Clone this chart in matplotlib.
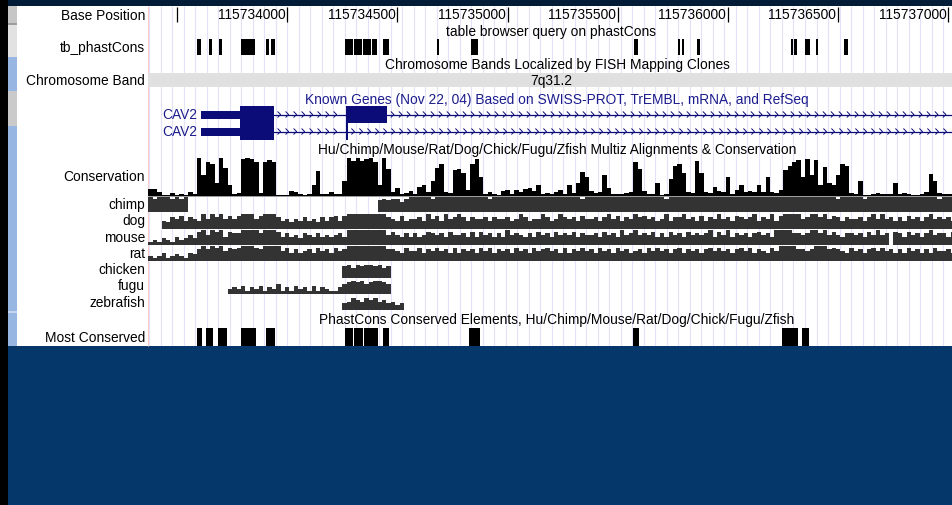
import matplotlib
matplotlib.use("Agg")
import matplotlib.pyplot as plt
from matplotlib.patches import Rectangle
from matplotlib.collections import LineCollection

plt.rcParams['font.family'] = ['Liberation Sans', 'DejaVu Sans']

# ---------------------------------------------------------------- data
VIEW_START = 115733368
VIEW_END = 115737016

ruler_ticks = [115733500, 115734000, 115734500, 115735000,
               115735500, 115736000, 115736500, 115737000]
ruler_labels = ["", "115734000", "115734500", "115735000",
                "115735500", "115736000", "115736500", "115737000"]

track_labels = ["Base Position", "tb_phastCons", "Chromosome Band",
                "Conservation", "chimp", "dog", "mouse", "rat",
                "chicken", "fugu", "zebrafish", "Most Conserved"]

track_titles = ["table browser query on phastCons",
                "Chromosome Bands Localized by FISH Mapping Clones",
                "Known Genes (Nov 22, 04) Based on SWISS-PROT, TrEMBL, mRNA, and RefSeq",
                "Hu/Chimp/Mouse/Rat/Dog/Chick/Fugu/Zfish Multiz Alignments & Conservation",
                "PhastCons Conserved Elements, Hu/Chimp/Mouse/Rat/Dog/Chick/Fugu/Zfish"]

band_name = "7q31.2"

# table browser phastCons query hits
tb_starts = [115733589, 115733645, 115733690, 115733790, 115733902, 115733925,
             115734262, 115734304, 115734345, 115734386, 115734436, 115734681,
             115734834, 115735574, 115735771, 115735789, 115735858, 115736285,
             115736299, 115736349, 115736397, 115736526]
tb_ends = [115733609, 115733660, 115733702, 115733853, 115733917, 115733943,
           115734300, 115734340, 115734380, 115734406, 115734463, 115734690,
           115734864, 115735593, 115735782, 115735800, 115735872, 115736293,
           115736311, 115736371, 115736409, 115736545]

# phastCons most conserved elements
mc_starts = [115733589, 115733630, 115733687, 115733789, 115733902, 115734262,
             115734303, 115734349, 115734436, 115734824, 115735570, 115736246,
             115736337]
mc_ends = [115733612, 115733664, 115733725, 115733858, 115733944, 115734300,
           115734345, 115734410, 115734463, 115734874, 115735597, 115736318,
           115736368]

# Known Genes: two CAV2 transcripts
gene_names = ["CAV2", "CAV2"]
gene_tx_start = [115733608, 115733608]
gene_cds_start = [115733785, 115733785]
gene_exon_starts = [[115733608, 115734265], [115733608, 115734266]]
gene_exon_ends = [[115733940, 115734454], [115733940, 115734275]]

# conservation score per 20 bp bin
cons_bin_start = 115733370
cons_bin_size = 20
conservation = [
    0.18, 0.18, 0.10, 0.02, 0.02, 0.08, 0.03, 0.04, 0.03, 0.10,
    0.06, 1.00, 0.55, 0.90, 0.85, 0.35, 1.00, 0.75, 0.30, 0.05,
    0.08, 0.98, 1.00, 0.98, 0.90, 0.08, 0.90, 0.96, 0.90, 0.03,
    0.02, 0.03, 0.12, 0.10, 0.04, 0.03, 0.04, 0.30, 0.67, 0.05,
    0.06, 0.10, 0.04, 0.05, 0.40, 1.00, 0.92, 1.00, 0.93, 0.97,
    1.00, 0.90, 0.30, 1.00, 0.70, 0.10, 0.20, 0.05, 0.08, 0.12,
    0.04, 0.25, 0.30, 0.10, 0.40, 0.75, 0.85, 0.10, 0.08, 0.68,
    0.72, 0.60, 0.15, 0.85, 0.98, 0.50, 0.05, 0.10, 0.04, 0.03,
    0.12, 0.15, 0.05, 0.15, 0.10, 0.18, 0.20, 0.12, 0.28, 0.05,
    0.08, 0.06, 0.10, 0.15, 0.05, 0.30, 0.08, 0.35, 0.62, 0.50,
    0.12, 0.08, 0.10, 0.55, 0.20, 0.06, 0.05, 0.06, 0.08, 0.10,
    0.90, 0.70, 0.12, 0.05, 0.06, 0.35, 0.03, 0.05, 0.45, 0.78,
    0.85, 0.60, 0.10, 0.08, 0.92, 0.60, 0.10, 0.08, 0.25, 0.12,
    0.10, 0.50, 0.05, 0.15, 0.30, 0.10, 0.12, 0.10, 0.30, 0.10,
    0.50, 0.10, 0.08, 0.15, 0.68, 0.80, 0.90, 0.96, 0.50, 0.98,
    0.55, 0.94, 0.30, 0.76, 0.35, 0.28, 0.55, 0.85, 0.80, 0.08,
    0.05, 0.40, 0.03, 0.03, 0.05, 0.08, 0.04, 0.04, 0.05, 0.35,
    0.05, 0.08, 0.05, 0.03, 0.03, 0.04, 0.10, 0.58, 0.40, 0.08,
    0.06, 0.05, 0.05]

# pairwise alignment level per 20 bp bin (0-9, '.' = no alignment)
chimp_levels = ("989998989." ".........." ".........." ".........."
                ".........." "..78788689" "9999899999" "9999999899"
                "9999999999" "9999999989" "9999999999" "9999999899"
                "9999999999" "9999999999" "9999999999" "9999998999"
                "9989999999" "9999999998" "999")
dog_levels = ("...5476857" "6596979686" "8999689997" "5646575647"
              "5785899999" "9999765856" "6759685967" "9757667576"
              "6756975669" "7569767586" "6757968576" "9786756957"
              "7967585769" "6758767957" "6958999967" "9979687576"
              "6757969675" "7586757967" "675")
mouse_levels = ("2324325346" "4896989587" "7999979998" "5756476575"
                "6567599999" "9999686575" "7568767586" "6758586757"
                "5967657586" "7586768576" "6758675967" "9676857586"
                "7586767958" "6957675786" "7599997767" "9979686577"
                "67586967.8" "7586757967" "758")
rat_levels = ("3235234325" "4797989687" "8999879999" "6857567586"
              "7586799999" "9999776586" "6857686758" "5767586857"
              "6758675867" "8675857686" "7586758675" "6758686757"
              "8576757868" "6757868576" "5869999776" "7999787658"
              "6757868675" "7586757586" "675")
chicken_levels = (".........." ".........." ".........." ".........."
                  "....786878" "87867.....")
fugu_levels = (".........." "........34" "3524352436" "2425342524"
               "3224678786" "78876.....")
zebrafish_levels = (".........." ".........." ".........." ".........."
                    "....457657" "67564534..")

# ---------------------------------------------------------------- figure
W, H = 952, 506
FS = 9.9
NAVY = "#0c0c78"

fig = plt.figure(figsize=(W / 100, H / 100), dpi=100)
bg = fig.add_axes([0, 0, 1, 1])
bg.set_xlim(0, W)
bg.set_ylim(H, 0)
bg.axis("off")

def box(x0, y0, x1, y1, color, z=1):
    bg.add_patch(Rectangle((x0, y0), x1 - x0, y1 - y0, facecolor=color,
                           edgecolor="none", zorder=z))

box(0, 0, W, H, "#06376a", 0)          # page background
box(0, 0, W, 7, "#021c38")             # top band
box(8, 7, W, 347, "white")             # browser image
box(0, 0, 7.5, H, "black")             # left edge
# track-control buttons
box(8, 7, 17, 24, "#c6c6c6")
box(8, 24, 17, 26, "#9c9c9c")
box(8, 26, 17, 58, "#e2e2e2")
box(8, 58, 17, 92, "#98b6e2")
box(8, 92, 17, 127, "#cacaca")
box(8, 127, 17, 312, "#98b6e2")
box(8, 312, 17, 314, "#c4d6f0")
box(8, 314, 17, 347, "#98b6e2")
bg.vlines(147.5, 7, 347, color="#ffcccc", lw=0.8, zorder=2)

label_y = [15.5, 48, 81, 177, 205, 221, 238, 254, 270, 286, 303, 338]
for lab, y in zip(track_labels, label_y):
    bg.text(145, y, lab, ha="right", va="center", fontsize=FS, color="black",
            zorder=3)

# data panel: x in genome coordinates, y in image rows
ax = fig.add_axes([148 / W, (H - 347) / H, (W - 148) / W, 340 / H])
ax.set_xlim(VIEW_START, VIEW_END)
ax.set_ylim(347, 7)
ax.axis("off")
ax.patch.set_alpha(0)
bp_px = (VIEW_END - VIEW_START) / (W - 148)

# track titles, drawn above the guide lines
title_pos = [(551.5, 32, "black"), (557, 65, "black"), (557, 100, "#1c1c8c"),
             (557, 150, "black"), (557, 320, "black")]
for t, (x, y, c) in zip(track_titles, title_pos):
    ax.text(x, y, t, ha="center", va="center", fontsize=FS, color=c,
            transform=bg.transData, zorder=6, clip_on=False)

# guide lines
guide = [115734000 + k * 52.2 for k in range(-12, 60)]
ax.vlines(guide, 7, 347, color="#e2e2fb", lw=0.8, zorder=0)

# ruler
ax.vlines(ruler_ticks, 8, 23, color="black", lw=0.9, zorder=3)
for t, lab in zip(ruler_ticks, ruler_labels):
    ax.annotate(lab, xy=(t, 15.5), xytext=(-2, 0), textcoords="offset pixels",
                ha="right", va="center", fontsize=FS, color="black", zorder=6)

# table-browser hits
ax.broken_barh([(s, e - s) for s, e in zip(tb_starts, tb_ends)], (40, 16),
               facecolors="black", zorder=3)

# chromosome band
ax.broken_barh([(VIEW_START, VIEW_END - VIEW_START)], (74, 14),
               facecolors="#e0e0e0", zorder=1)
ax.text(551, 81, band_name, ha="center", va="center", fontsize=FS,
        color="black", transform=bg.transData, zorder=6)

# genes
gene_y = [115.5, 132.5]
chev = []
for name, yc, txs, cds, es, ee in zip(gene_names, gene_y, gene_tx_start,
                                       gene_cds_start, gene_exon_starts,
                                       gene_exon_ends):
    ax.hlines(yc, txs, VIEW_END, color=NAVY, lw=0.9, zorder=3)
    bounds = list(zip(ee, es[1:] + [VIEW_END]))
    for a, b in bounds:
        p = a + 5 * bp_px
        while p < b - 3 * bp_px:
            chev.append([(p - 1.5 * bp_px, yc - 3), (p + 1.5 * bp_px, yc),
                         (p - 1.5 * bp_px, yc + 3)])
            p += 8 * bp_px
    for s, e in zip(es, ee):
        if s < cds:
            ax.add_patch(Rectangle((s, yc - 4), min(e, cds) - s, 8,
                                   facecolor=NAVY, edgecolor="none", zorder=4))
        if e > cds:
            s2 = max(s, cds)
            ax.add_patch(Rectangle((s2, yc - 8.5), e - s2, 17,
                                   facecolor=NAVY, edgecolor="none", zorder=4))
    ax.annotate(name, xy=(txs, yc), xytext=(-4, 0), textcoords="offset pixels",
                ha="right", va="center", fontsize=FS, color="#1c1c8c", zorder=6)
ax.add_collection(LineCollection(chev, colors=NAVY, linewidths=0.7, zorder=3))

# conservation wiggle
cons_x = [cons_bin_start + i * cons_bin_size for i in range(len(conservation))]
ax.bar(cons_x, [-v * 38 for v in conservation], bottom=197,
       width=cons_bin_size, align="edge", color="black", lw=0, zorder=3)
ax.hlines(197.3, VIEW_START, VIEW_END, color="#9a9a9a", lw=0.7, zorder=2)

# pairwise alignment tracks
rows = [(chimp_levels, 213), (dog_levels, 230), (mouse_levels, 246),
        (rat_levels, 262), (chicken_levels, 279), (fugu_levels, 295),
        (zebrafish_levels, 311)]
for levels, base in rows:
    xs, dark = [], []
    for i, c in enumerate(levels):
        if c == ".":
            continue
        xs.append(cons_bin_start + i * cons_bin_size)
        dark.append(-int(c) / 9 * 15)
    ax.bar(xs, dark, bottom=base, width=cons_bin_size, align="edge",
           color="#333333", lw=0, zorder=3)

# most conserved elements
ax.broken_barh([(s, e - s) for s, e in zip(mc_starts, mc_ends)], (329, 18),
               facecolors="black", zorder=3)

fig.savefig("out.png", dpi=100)
